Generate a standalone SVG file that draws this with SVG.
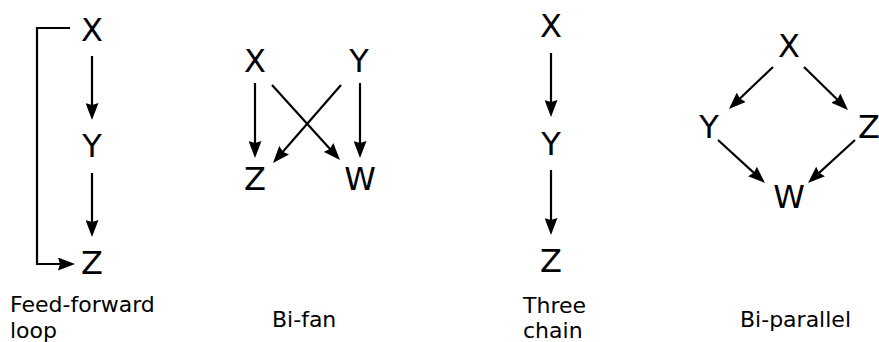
<svg xmlns="http://www.w3.org/2000/svg" width="879" height="342" viewBox="0 0 879 342">
  <style>
    .lbl { font-family: "DejaVu Sans", "Liberation Sans", sans-serif; font-size: 32px; fill: #000; text-anchor: middle; }
    .cap { font-family: "DejaVu Sans", "Liberation Sans", sans-serif; font-size: 22px; fill: #000; }
    .edge { stroke: #000; stroke-width: 2.2; fill: none; marker-end: url(#arrow); }
  </style>
  <defs>
    <marker id="arrow" markerUnits="userSpaceOnUse" markerWidth="17" markerHeight="13" refX="12" refY="6.5" orient="auto">
      <path d="M0,0 L17,6.5 L0,13 L2,6.5 Z" fill="#000"/>
    </marker>
  </defs>
  <rect width="879" height="342" fill="#fff"/>

  <!-- Feed-forward loop -->
  <g id="ffl-x"><text class="lbl" x="92" y="41">X</text></g>
  <g id="ffl-y"><text class="lbl" x="92" y="157">Y</text></g>
  <g id="ffl-z"><text class="lbl" x="92" y="274">Z</text></g>
  <g id="ffl-caption"><text class="cap" x="10" y="312">Feed-forward</text><text class="cap" x="10" y="338">loop</text></g>

  <!-- Bi-fan -->
  <g id="bf-x"><text class="lbl" x="255" y="72">X</text></g>
  <g id="bf-y"><text class="lbl" x="359" y="72">Y</text></g>
  <g id="bf-z"><text class="lbl" x="255" y="190">Z</text></g>
  <g id="bf-w"><text class="lbl" x="360" y="190">W</text></g>
  <g id="bf-caption"><text class="cap" x="272" y="327">Bi-fan</text></g>

  <!-- Three chain -->
  <g id="tc-x"><text class="lbl" x="551" y="37">X</text></g>
  <g id="tc-y"><text class="lbl" x="551" y="155">Y</text></g>
  <g id="tc-z"><text class="lbl" x="551" y="272">Z</text></g>
  <g id="tc-caption"><text class="cap" x="523" y="313">Three</text><text class="cap" x="523" y="338">chain</text></g>

  <!-- Bi-parallel -->
  <g id="bp-x"><text class="lbl" x="789" y="57">X</text></g>
  <g id="bp-y"><text class="lbl" x="709" y="138">Y</text></g>
  <g id="bp-z"><text class="lbl" x="869" y="138">Z</text></g>
  <g id="bp-w"><text class="lbl" x="789" y="208">W</text></g>
  <g id="bp-caption"><text class="cap" x="740" y="327">Bi-parallel</text></g>

  <!-- connectors -->
  <g id="connectors">
    <line class="edge" x1="92" y1="56" x2="92" y2="115"/>
    <line class="edge" x1="92" y1="173" x2="92" y2="232"/>
    <polyline class="edge" points="70,28 37,28 37,264 70,264"/>

    <line class="edge" x1="255" y1="83" x2="255" y2="153"/>
    <line class="edge" x1="360" y1="83" x2="360" y2="153"/>
    <line class="edge" x1="272" y1="85" x2="336.6" y2="156.3"/>
    <line class="edge" x1="341" y1="85" x2="276.3" y2="159.2"/>

    <line class="edge" x1="551" y1="53" x2="551" y2="112"/>
    <line class="edge" x1="551" y1="170" x2="551" y2="230"/>

    <line class="edge" x1="773" y1="67" x2="732.6" y2="105.5"/>
    <line class="edge" x1="804" y1="67" x2="844.4" y2="106.5"/>
    <line class="edge" x1="718" y1="140" x2="761.3" y2="179.6"/>
    <line class="edge" x1="855" y1="140" x2="811.7" y2="179.6"/>
  </g>
</svg>
